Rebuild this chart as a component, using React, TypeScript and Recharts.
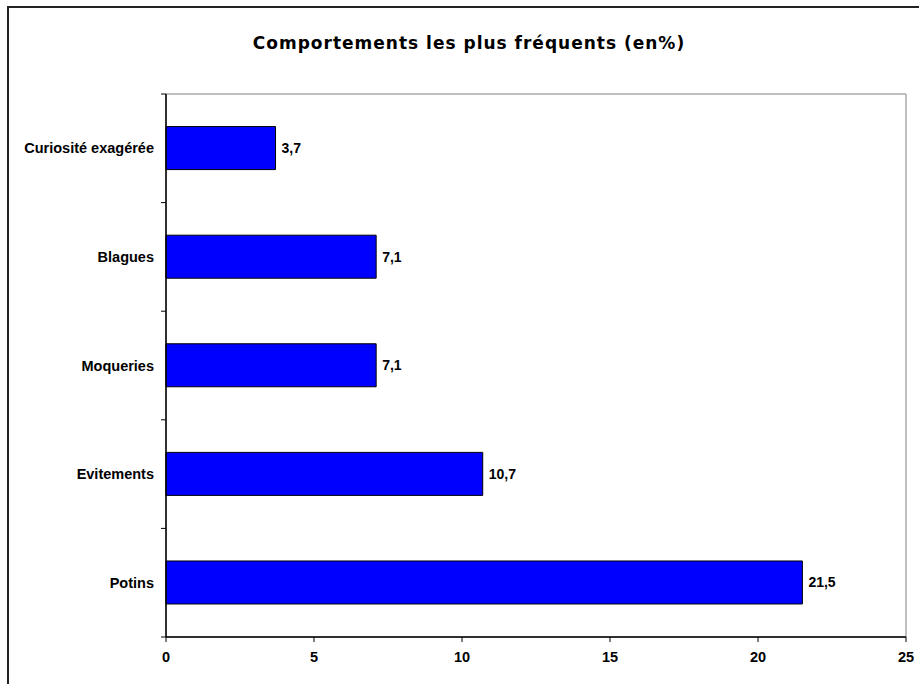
import { BarChart, Bar, XAxis, YAxis, LabelList, ReferenceArea } from "recharts"

const categories = ["Curiosité exagérée", "Blagues", "Moqueries", "Evitements", "Potins"]
const values = [3.7, 7.1, 7.1, 10.7, 21.5]
const xTicks = [0, 5, 10, 15, 20, 25]

const data = categories.map((name, i) => ({ name, value: values[i] }))

const labelFont = "'Liberation Sans', Arial, sans-serif"

function CategoryTick(props: any) {
  const { x, y, payload, index } = props
  const half = payload?.offset ?? 0
  const axisX = x + 12
  return (
    <g>
      <text x={x} y={y} dy={5} textAnchor="end" fontFamily={labelFont} fontWeight="bold" fontSize={14.5} fill="#000">
        {payload.value}
      </text>
      <line x1={axisX - 5} x2={axisX} y1={y + half} y2={y + half} stroke="#000" />
      {index === 0 && <line x1={axisX - 5} x2={axisX} y1={y - half} y2={y - half} stroke="#000" />}
    </g>
  )
}

export default function App() {
  return (
    <div style={{ position: "absolute", left: 0, top: 0, width: 919, height: 684, overflow: "hidden", background: "#fff" }}>
      <div
        style={{
          position: "absolute",
          left: 7,
          top: 6,
          width: 940,
          height: 720,
          border: "2px solid #222",
          boxSizing: "border-box",
        }}
      />
      <div
        style={{
          position: "absolute",
          left: 0,
          top: 33,
          width: 938,
          textAlign: "center",
          fontFamily: "'DejaVu Sans', sans-serif",
          fontWeight: 900,
          fontSize: 17,
          letterSpacing: 1,
          color: "#000",
        }}
      >
        Comportements les plus fréquents (en%)
      </div>
      <div style={{ position: "absolute", left: 0, top: 0 }}>
        <BarChart
          width={919}
          height={684}
          data={data}
          layout="vertical"
          margin={{ top: 94, right: 13, bottom: 17, left: 0 }}
          barCategoryGap="30%"
        >
          <ReferenceArea x1={0} x2={25} stroke="#808080" strokeWidth={1} fill="none" ifOverflow="visible" />
          <XAxis
            type="number"
            domain={[0, 25]}
            ticks={xTicks}
            height={30}
            axisLine={{ stroke: "#000", strokeWidth: 1.5 }}
            tickLine={{ stroke: "#000" }}
            tickSize={5}
            tickMargin={10}
            tick={{ fontFamily: labelFont, fontWeight: "bold", fontSize: 14.5, fill: "#000" }}
          />
          <YAxis
            type="category"
            dataKey="name"
            width={166}
            axisLine={{ stroke: "#000", strokeWidth: 1.5 }}
            tickLine={false}
            tickSize={0}
            tickMargin={12}
            tick={<CategoryTick />}
            interval={0}
          />
          <Bar dataKey="value" fill="#0000FF" stroke="#000" strokeWidth={1} isAnimationActive={false}>
            <LabelList
              dataKey="value"
              position="right"
              offset={6}
              formatter={(v: any) => String(v).replace(".", ",")}
              style={{ fontFamily: labelFont, fontWeight: "bold", fontSize: 14, fill: "#000" }}
            />
          </Bar>
        </BarChart>
      </div>
    </div>
  )
}
